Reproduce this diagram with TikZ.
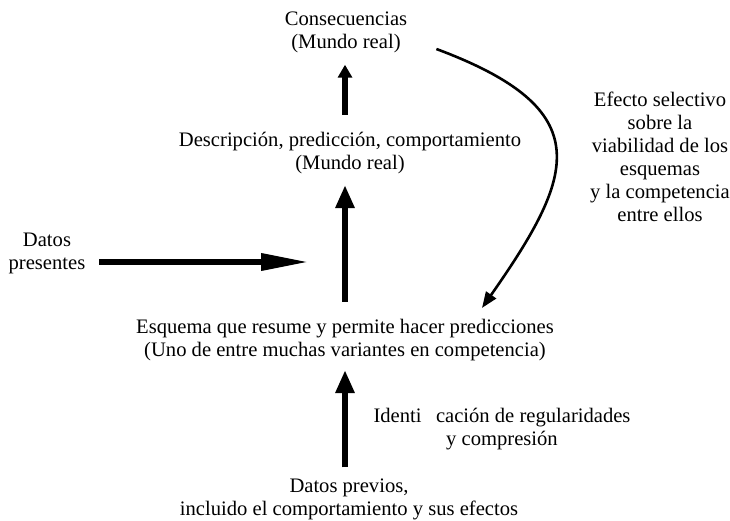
\documentclass[tikz,border=0pt]{standalone}
\usepackage{fontspec}
\setmainfont{Liberation Serif}
\usetikzlibrary{positioning,arrows.meta}

\begin{document}
\begin{tikzpicture}[x=1pt,y=-1pt,>=Triangle,
  txt/.style={align=center,inner sep=0pt,font=\fontsize{20.6}{23}\selectfont},
  shortfat/.style={line width=6.5pt,-{Triangle[length=13pt,width=14pt]}},
  fat/.style={line width=6.5pt,-{Triangle[length=23pt,width=18pt]}},
  longfat/.style={line width=6.5pt,-{Triangle[length=49pt,width=16pt]}},
  thin/.style={line width=2.6pt,-{Triangle[length=16pt,width=12pt]}}]

\useasboundingbox (0,0) rectangle (730,521);

\node [txt] at (346,32)  (cons) {Consecuencias\\(Mundo real)};
\node [txt] at (350,153) (desc) {Descripción, predicción, comportamiento\\(Mundo real)};
\node [txt] at (47,253)  (pres) {Datos\\presentes};
\node [txt] at (345,340) (esq)  {Esquema que resume y permite hacer predicciones\\(Uno de entre muchas variantes en competencia)};
\node [txt] at (502,429) (iden) {Identi\hspace{0.7em}cación de regularidades\\y compresión};
\node [txt] at (349,499) (prev) {Datos previos,\\incluido el comportamiento y sus efectos};
\node [txt] at (660,157) (efec) {Efecto selectivo\\sobre la\\viabilidad de los\\esquemas\\y la competencia\\entre ellos};

\coordinate (hin) at (310,262);

\draw[shortfat,shorten <=17pt,shorten >=12pt] (desc.north -| esq) -- (cons.south -| esq);
\draw[fat,shorten <=17pt,shorten >=11pt] (esq.north) -- (desc.south -| esq);
\draw[fat,shorten <=11pt,shorten >=9pt] (prev.north -| esq) -- (esq.south);
\draw[longfat,shorten <=13.6pt] (pres.east |- hin) -- (hin);
\draw[thin] ([shift={(29,17)}]cons.east) .. controls (600,110) and (575,175) .. ([shift={(137,-11)}]esq.north);

\end{tikzpicture}
\end{document}
